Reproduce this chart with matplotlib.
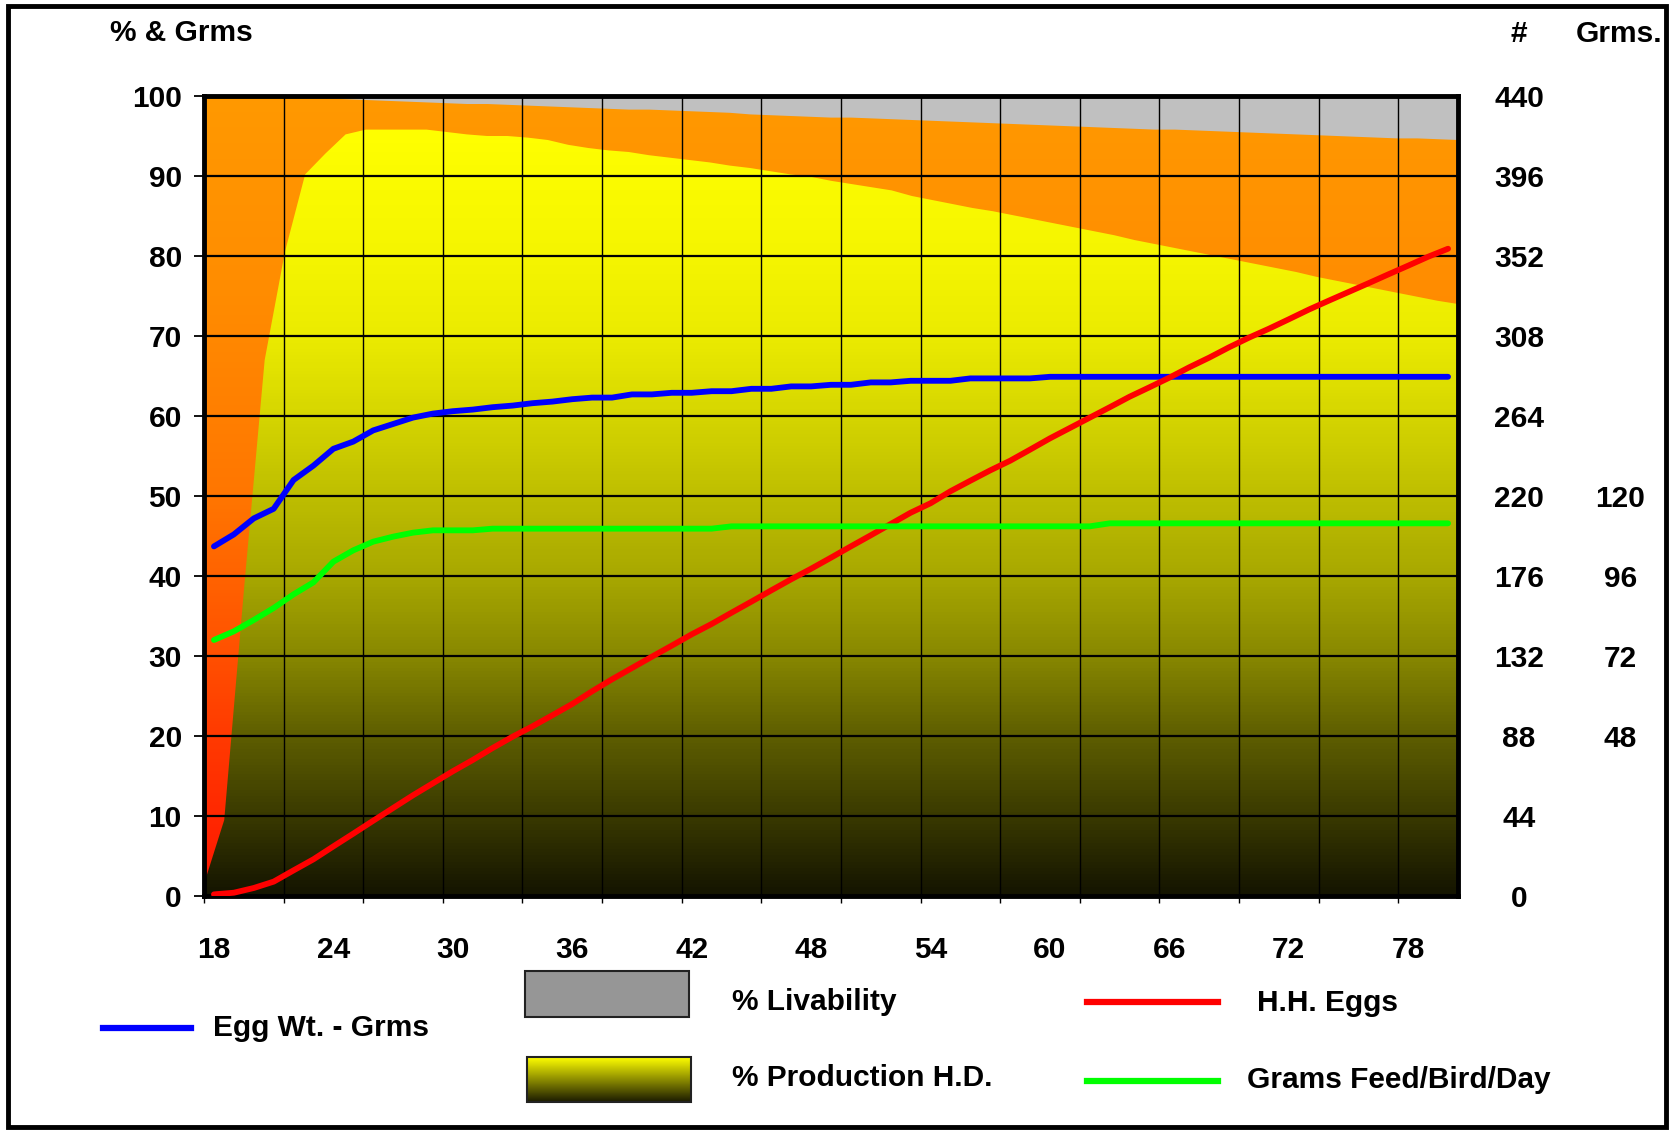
import numpy as np
import matplotlib.pyplot as plt
from matplotlib.colors import LinearSegmentedColormap
from matplotlib.patches import Rectangle
from matplotlib.lines import Line2D

plt.rcParams['font.family'] = ['Liberation Sans', 'DejaVu Sans']
plt.rcParams['font.weight'] = 'bold'
plt.rcParams['font.size'] = 21.5

# ---- data (age in weeks 18..80) ----
weeks = np.arange(18, 81)

production = [
    1.5, 9.5, 39.0, 67.0, 80.5, 90.2, 92.8, 95.2, 95.8, 95.8,     # 18-27
    95.8, 95.8, 95.5, 95.2, 95.0, 95.0, 94.8, 94.5, 93.9, 93.5,   # 28-37
    93.2, 93.0, 92.6, 92.3, 92.0, 91.7, 91.3, 91.0, 90.6, 90.2,   # 38-47
    89.9, 89.4, 89.0, 88.6, 88.2, 87.5, 87.0, 86.5, 86.0, 85.6,   # 48-57
    85.1, 84.6, 84.1, 83.6, 83.1, 82.6, 82.0, 81.5, 81.0, 80.5,   # 58-67
    80.0, 79.5, 79.0, 78.5, 78.0, 77.4, 76.9, 76.4, 75.9, 75.4,   # 68-77
    74.9, 74.4, 74.0]                                             # 78-80

livability = [
    99.9, 99.9, 99.8, 99.8, 99.8, 99.7, 99.7, 99.6, 99.5, 99.4,
    99.3, 99.2, 99.1, 99.0, 99.0, 98.9, 98.8, 98.7, 98.6, 98.5,
    98.4, 98.3, 98.3, 98.2, 98.1, 98.0, 97.9, 97.7, 97.6, 97.5,
    97.4, 97.3, 97.3, 97.2, 97.1, 97.0, 96.9, 96.8, 96.7, 96.6,
    96.5, 96.4, 96.3, 96.2, 96.1, 96.0, 95.9, 95.8, 95.8, 95.7,
    95.6, 95.5, 95.4, 95.3, 95.2, 95.1, 95.0, 94.9, 94.8, 94.7,
    94.7, 94.6, 94.5]

egg_weight = [
    43.7, 45.2, 47.2, 48.4, 52.0, 53.8, 55.9, 56.8, 58.2, 59.0,
    59.8, 60.3, 60.6, 60.8, 61.1, 61.3, 61.6, 61.8, 62.1, 62.3,
    62.3, 62.7, 62.7, 62.9, 62.9, 63.1, 63.1, 63.4, 63.4, 63.7,
    63.7, 63.9, 63.9, 64.2, 64.2, 64.4, 64.4, 64.4, 64.7, 64.7,
    64.7, 64.7, 64.9, 64.9, 64.9, 64.9, 64.9, 64.9, 64.9, 64.9,
    64.9, 64.9, 64.9, 64.9, 64.9, 64.9, 64.9, 64.9, 64.9, 64.9,
    64.9, 64.9, 64.9]

hh_eggs = [
    0.9, 1.8, 4.4, 7.9, 14.1, 20.2, 27.3, 34.3, 41.4, 48.4,
    55.4, 62.0, 68.6, 74.8, 81.4, 87.6, 93.3, 99.4, 105.6, 112.6,
    119.2, 125.4, 131.6, 137.7, 143.9, 149.6, 155.8, 161.9, 168.1, 174.2,
    180.0, 186.1, 192.3, 198.4, 204.6, 210.8, 216.0, 222.6, 228.4, 234.1,
    239.4, 245.5, 251.7, 257.4, 263.1, 268.8, 274.6, 279.8, 285.1, 290.8,
    296.1, 301.8, 307.1, 312.0, 317.2, 322.5, 327.4, 332.2, 337.0, 341.9,
    346.7, 351.6, 356.0]

feed_grams = [
    76.8, 79.4, 82.8, 86.4, 90.5, 94.1, 100.3, 103.7, 106.3, 107.8,
    109.0, 109.7, 109.7, 109.7, 110.2, 110.2, 110.2, 110.2, 110.2, 110.2,
    110.2, 110.2, 110.2, 110.2, 110.2, 110.2, 110.9, 110.9, 110.9, 110.9,
    110.9, 110.9, 110.9, 110.9, 110.9, 110.9, 110.9, 110.9, 110.9, 110.9,
    110.9, 110.9, 110.9, 110.9, 110.9, 111.8, 111.8, 111.8, 111.8, 111.8,
    111.8, 111.8, 111.8, 111.8, 111.8, 111.8, 111.8, 111.8, 111.8, 111.8,
    111.8, 111.8, 111.8]

pct_ticks = np.arange(0, 101, 10)
egg_ticks = np.arange(0, 441, 44)
gram_ticks = [48, 72, 96, 120]
week_labels = np.arange(18, 79, 6)

# gradient fills
c = lambda r, g, b: (r / 255, g / 255, b / 255)
orange_cmap = LinearSegmentedColormap.from_list('orange', [
    (0.0, c(255, 20, 0)), (0.1, c(255, 40, 0)), (0.2, c(255, 58, 0)),
    (0.3, c(255, 80, 0)), (0.5, c(255, 118, 0)), (0.75, c(255, 140, 0)),
    (1.0, c(255, 153, 0))])
yellow_cmap = LinearSegmentedColormap.from_list('yellow', [
    (0.0, c(20, 20, 0)), (0.1, c(58, 58, 0)), (0.2, c(94, 94, 0)),
    (0.3, c(136, 136, 0)), (0.4, c(168, 168, 0)), (0.5, c(190, 190, 0)),
    (0.62, c(218, 218, 0)), (0.7, c(235, 235, 0)), (0.8, c(245, 245, 0)),
    (0.9, c(251, 251, 0)), (0.96, c(255, 255, 0)), (1.0, c(255, 255, 0))])
grad = np.linspace(0, 1, 256).reshape(-1, 1)

W, H = 1669, 1130
fig = plt.figure(figsize=(W / 100, H / 100), dpi=100)
rect = [204 / W, 1 - 896 / H, (1458 - 204) / W, (896 - 96) / H]

# areas (plotted edge to edge)
ax_area = fig.add_axes(rect)
ax_area.set_facecolor('#C0C0C0')
live = ax_area.fill_between(weeks, 0, livability, color='none', lw=0)
im1 = ax_area.imshow(grad, cmap=orange_cmap, extent=[18, 80, 0, 100],
                     origin='lower', aspect='auto', zorder=1)
im1.set_clip_path(live.get_paths()[0], transform=ax_area.transData)
prod = ax_area.fill_between(weeks, 0, production, color='none', lw=0)
im2 = ax_area.imshow(grad, cmap=yellow_cmap, extent=[18, 80, 0, 100],
                     origin='lower', aspect='auto', zorder=2)
im2.set_clip_path(prod.get_paths()[0], transform=ax_area.transData)
ax_area.set_xlim(18, 80)
ax_area.set_ylim(0, 100)
ax_area.set_xticks([])
ax_area.set_yticks([])
for s in ax_area.spines.values():
    s.set_visible(False)

# lines (categories centred)
ax = fig.add_axes(rect)
ax.patch.set_visible(False)
ax.set_xlim(17.5, 80.5)
ax.set_ylim(0, 100)
ax.set_yticks(pct_ticks)
ax.set_xticks(week_labels)
ax.set_xticks(np.arange(17.5, 80.6, 4), minor=True)
ax.grid(axis='y', which='major', color='black', lw=1.6)
ax.grid(axis='x', which='minor', color='black', lw=1.0)
ax.tick_params(axis='y', direction='out', length=7, width=1.3, pad=9)
ax.tick_params(axis='x', which='major', length=0, pad=29)
ax.tick_params(axis='x', which='minor', direction='out', length=5, width=1.0)
for s in ax.spines.values():
    s.set_linewidth(3.5)
ax.plot(weeks, egg_weight, color='#0000FF', lw=4.2, solid_capstyle='round', zorder=3)

ax_eggs = ax.twinx()
ax_eggs.set_ylim(0, 440)
ax_eggs.set_yticks(egg_ticks)
ax_eggs.tick_params(axis='y', length=0, pad=44)
for t in ax_eggs.get_yticklabels():
    t.set_horizontalalignment('center')
for s in ax_eggs.spines.values():
    s.set_visible(False)
ax_eggs.plot(weeks, hh_eggs, color='#FF0000', lw=4.2, solid_capstyle='round')

ax_gr = ax.twinx()
ax_gr.set_ylim(0, 240)
ax_gr.set_yticks(gram_ticks)
ax_gr.tick_params(axis='y', length=0, pad=117)
for t in ax_gr.get_yticklabels():
    t.set_horizontalalignment('center')
for s in ax_gr.spines.values():
    s.set_visible(False)
ax_gr.plot(weeks, feed_grams, color='#00FF00', lw=4.2, solid_capstyle='round')

# axis titles, legend and frame in pixel coordinates
lg = fig.add_axes([0, 0, 1, 1])
lg.set_xlim(0, W)
lg.set_ylim(H, 0)
lg.axis('off')
lg.text(110, 33, '% & Grms', ha='left', va='center')
lg.text(1519, 34, '#', ha='center', va='center')
lg.text(1619, 34, 'Grms.', ha='center', va='center')

lg.add_line(Line2D([103, 191], [1028, 1028], color='#0000FF', lw=4.5))
lg.text(213, 1028, 'Egg Wt. - Grms', ha='left', va='center')
lg.add_patch(Rectangle((525, 971), 164, 46, facecolor='#969696', edgecolor='#222222', lw=1.5))
lg.text(732, 1002, '% Livability', ha='left', va='center')
lg.imshow(grad, cmap=LinearSegmentedColormap.from_list('lgy', ['#1a1a00', '#ffff00']),
          extent=[527, 691, 1102, 1057], origin='lower', aspect='auto')
lg.add_patch(Rectangle((527, 1057), 164, 45, facecolor='none', edgecolor='#222222', lw=1.5))
lg.text(732, 1078, '% Production H.D.', ha='left', va='center')
lg.add_line(Line2D([1087, 1218], [1002, 1002], color='#FF0000', lw=4.5))
lg.text(1257, 1003, 'H.H. Eggs', ha='left', va='center')
lg.add_line(Line2D([1087, 1218], [1081, 1081], color='#00FF00', lw=4.5))
lg.text(1247, 1080, 'Grams Feed/Bird/Day', ha='left', va='center')
lg.add_patch(Rectangle((8, 6), 1658, 1121, facecolor='none', edgecolor='black', lw=3.5))
lg.set_xlim(0, W)
lg.set_ylim(H, 0)

fig.savefig('out.png', dpi=100)
